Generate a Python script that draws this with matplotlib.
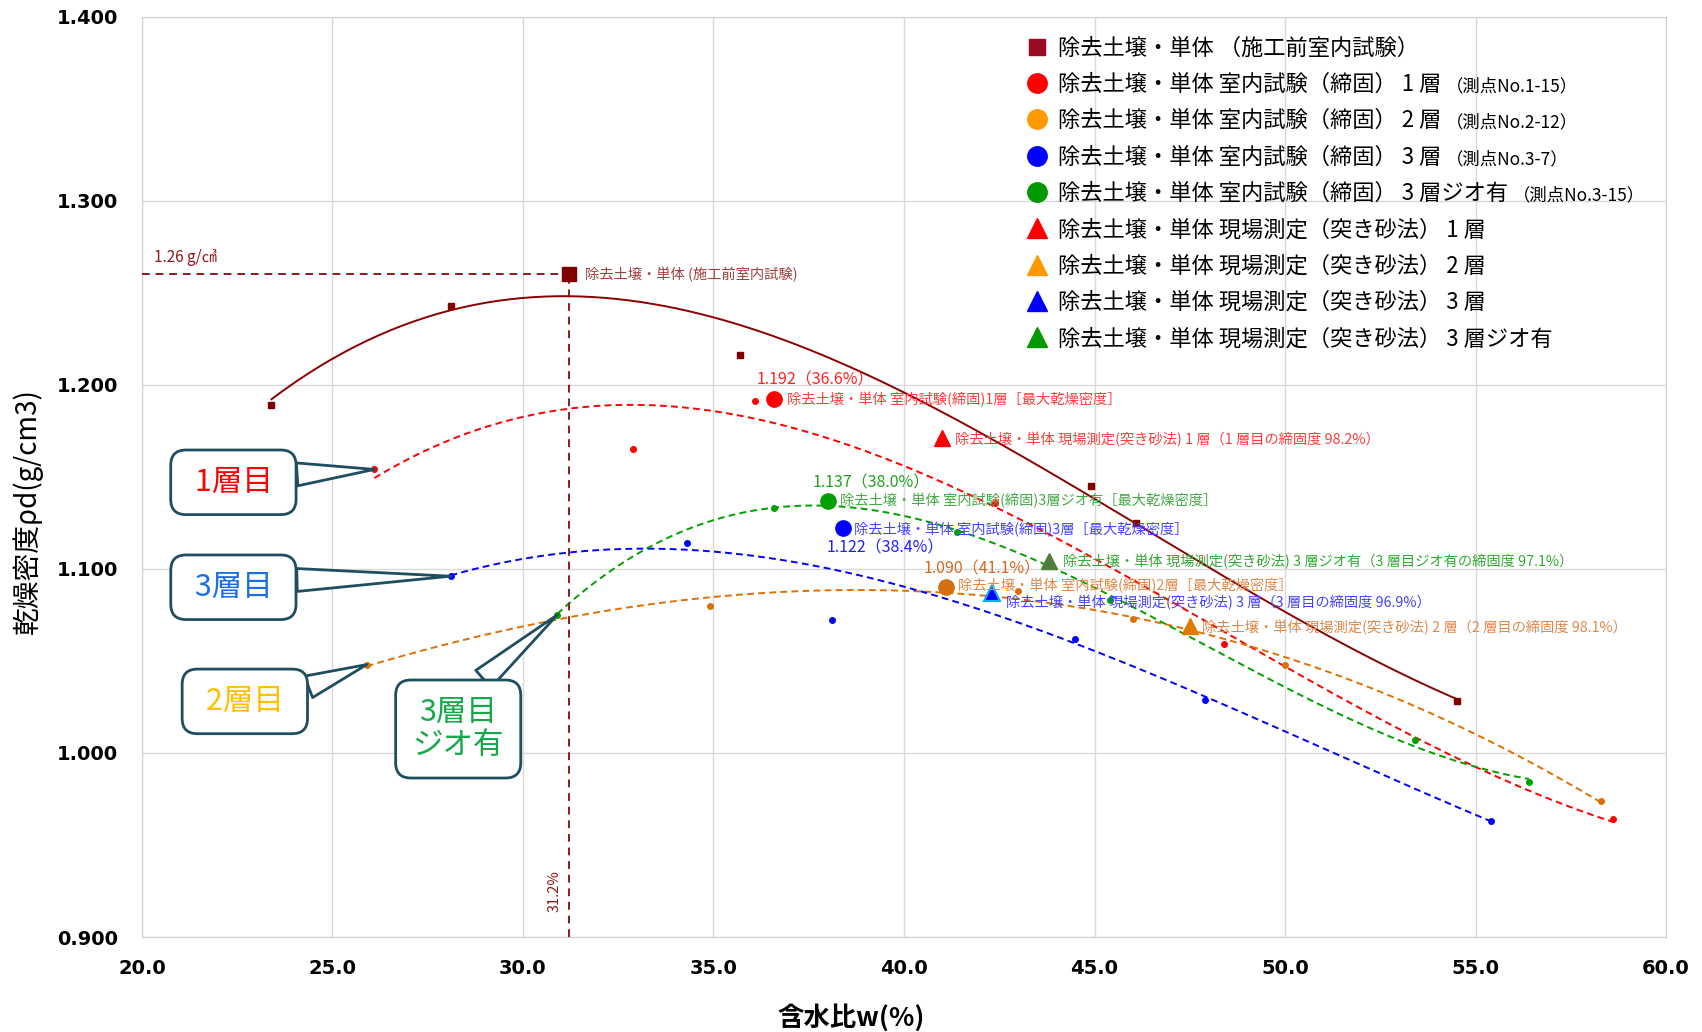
import matplotlib.pyplot as plt
import numpy as np
from matplotlib.lines import Line2D

plt.rcParams['font.family'] = ['Noto Sans CJK JP', 'DejaVu Sans']

# 除去土壌・単体 施工前室内試験
w_pre = [23.4, 28.1, 35.7, 44.9, 46.1, 54.5]
rho_pre = [1.189, 1.243, 1.216, 1.145, 1.125, 1.028]
pre_max = (31.2, 1.260)

# 室内試験(締固) 1層 / 2層 / 3層 / 3層ジオ有
w_l1 = [26.1, 32.9, 36.1, 42.4, 48.4, 58.6]
rho_l1 = [1.154, 1.165, 1.191, 1.136, 1.059, 0.964]
l1_max = (36.6, 1.192)

w_l2 = [25.9, 34.9, 43.0, 46.0, 50.0, 58.3]
rho_l2 = [1.048, 1.080, 1.088, 1.073, 1.048, 0.974]
l2_max = (41.1, 1.090)

w_l3 = [28.1, 34.3, 38.1, 44.5, 47.9, 55.4]
rho_l3 = [1.096, 1.114, 1.072, 1.062, 1.029, 0.963]
l3_max = (38.4, 1.122)

w_geo = [30.9, 36.6, 41.4, 45.4, 53.4, 56.4]
rho_geo = [1.075, 1.133, 1.120, 1.083, 1.007, 0.984]
geo_max = (38.0, 1.137)

# 現場測定(突き砂法)
field_l1 = (41.0, 1.171)
field_l2 = (47.5, 1.069)
field_l3 = (42.3, 1.087)
field_geo = (43.8, 1.104)

fig = plt.figure(figsize=(17.02, 10.32), dpi=100)
ax = fig.add_axes([0.0834, 0.092, 0.8955, 0.892])

dash = (0, (3.5, 2.2))


def trend(w, rho, peak, color, ls):
    # 近似曲線(3次多項式)、最大点も含めて近似
    ww = list(w) + [peak[0]]
    rr = list(rho) + [peak[1]]
    c = np.polyfit(ww, rr, 3)
    x = np.linspace(min(ww), max(ww), 200)
    ax.plot(x, np.polyval(c, x), color=color, ls=ls, lw=1.4, zorder=2)


trend(w_pre, rho_pre, pre_max, '#8B0000', '-')
trend(w_l1, rho_l1, l1_max, '#FF0000', dash)
trend(w_l2, rho_l2, l2_max, '#E07000', dash)
trend(w_l3, rho_l3, l3_max, '#0000FF', dash)
trend(w_geo, rho_geo, geo_max, '#00A000', dash)

ax.plot(w_pre, rho_pre, 's', color='#800000', ms=4.5, zorder=4)
ax.plot(w_l1, rho_l1, 'o', color='#FF0000', ms=4, zorder=4)
ax.plot(w_l2, rho_l2, 'o', color='#D9700A', ms=4, zorder=4)
ax.plot(w_l3, rho_l3, 'o', color='#0000FF', ms=4, zorder=4)
ax.plot(w_geo, rho_geo, 'o', color='#00A000', ms=4, zorder=4)

# 基準線 1.26 / 31.2%
ax.plot([20, pre_max[0]], [pre_max[1], pre_max[1]], color='#8B1A1A', ls=(0, (4, 3)), lw=1.4, zorder=3)
ax.plot([pre_max[0], pre_max[0]], [0.9, pre_max[1]], color='#8B1A1A', ls=(0, (4, 3)), lw=1.4, zorder=3)
ax.annotate('1.26 g/㎤', xy=(20, pre_max[1]), xytext=(9, 6), textcoords='offset points',
            fontsize=11, color='#8B1A1A', va='bottom')
ax.annotate('31.2%', xy=(pre_max[0], 0.925), xytext=(-10, 0), textcoords='offset points',
            fontsize=10.5, color='#8B1A1A', rotation=90, ha='center', va='center')

# 最大乾燥密度
ax.plot(*pre_max, 's', color='#800000', ms=10, zorder=5)
ax.plot(*l1_max, 'o', color='#FF0000', ms=11, zorder=5)
ax.plot(*l2_max, 'o', color='#D2700F', ms=11, zorder=5)
ax.plot(*l3_max, 'o', color='#0000FF', ms=11, zorder=5)
ax.plot(*geo_max, 'o', color='#00A000', ms=11, zorder=5)

ax.plot(*field_l1, '^', color='#FF0000', ms=11, zorder=5)
ax.plot(*field_l2, '^', color='#E07B00', ms=11, zorder=5)
ax.plot(*field_l3, '^', color='#0000FF', mec='#00B0F0', mew=1.5, ms=11, zorder=5)
ax.plot(*field_geo, '^', color='#4E7F3A', ms=11, zorder=5)


def label(xy, text, dx, dy, color, size=10.3):
    ax.annotate(text, xy=xy, xytext=(dx, dy), textcoords='offset points',
                fontsize=size, color=color, va='center', ha='left', zorder=6)


label(pre_max, '除去土壌・単体 (施工前室内試験)', 12, 0, '#A0413E')
label(l1_max, '1.192（36.6%）', -13, 14, '#FF2020', 11.5)
label(l1_max, '除去土壌・単体 室内試験(締固)1層［最大乾燥密度］', 9, 0, '#FF3B3B')
label(field_l1, '除去土壌・単体 現場測定(突き砂法) 1 層（1 層目の締固度 98.2%）', 9, -1, '#FF3B3B')
label(geo_max, '1.137（38.0%）', -11, 13, '#22A022', 11.5)
label(geo_max, '除去土壌・単体 室内試験(締固)3層ジオ有［最大乾燥密度］', 9, 0, '#44AA44')
label(l3_max, '除去土壌・単体 室内試験(締固)3層［最大乾燥密度］', 8, -1, '#4444FF')
label(l3_max, '1.122（38.4%）', -12, -14, '#2020FF', 11.5)
label(field_geo, '除去土壌・単体 現場測定(突き砂法) 3 層ジオ有（3 層目ジオ有の締固度 97.1%）', 10, 0, '#33AA33')
label(l2_max, '1.090（41.1%）', -16, 13, '#D2691E', 11.5)
label(l2_max, '除去土壌・単体 室内試験(締固)2層［最大乾燥密度］', 9, 1, '#E0884A')
label(field_l3, '除去土壌・単体 現場測定(突き砂法) 3 層（3 層目の締固度 96.9%）', 10, -7, '#4444FF')
label(field_l2, '除去土壌・単体 現場測定(突き砂法) 2 層（2 層目の締固度 98.1%）', 9, -1.5, '#E0884A')

# 吹き出し
edge = '#1F4E5F'
callouts = [
    (' 1層目 ', '#FF0000', (22.4, 1.147), (w_l1[0], rho_l1[0]), (1.0, 0.72)),
    (' 3層目 ', '#1A6FE8', (22.4, 1.090), (w_l3[0], rho_l3[0]), (1.0, 0.72)),
    (' 2層目 ', '#FFC000', (22.7, 1.028), (w_l2[0], rho_l2[0]), (1.0, 0.75)),
    ('3層目\nジオ有', '#14A84A', (28.3, 1.013), (w_geo[0], rho_geo[0]), (0.55, 1.0)),
]
for text, color, pos, tip, rel in callouts:
    ax.annotate(text, xy=tip, xytext=pos, textcoords='data', fontsize=22, color=color,
                ha='center', va='center', linespacing=1.1, zorder=7,
                bbox=dict(boxstyle='round,pad=0.55,rounding_size=0.5', fc='white', ec=edge, lw=2),
                arrowprops=dict(arrowstyle='wedge,tail_width=0.75,shrink_factor=0.5',
                                fc='white', ec=edge, lw=2, shrinkA=0, shrinkB=0, relpos=rel))

ax.set_xlim(20, 60)
ax.set_ylim(0.9, 1.4)
ax.set_xticks(np.arange(20, 60.1, 5))
ax.set_yticks(np.arange(0.9, 1.401, 0.1))
ax.xaxis.set_major_formatter(lambda v, _: f"{v:.1f}")
ax.yaxis.set_major_formatter(lambda v, _: f"{v:.3f}")
for t in ax.get_xticklabels():
    t.set_fontweight('bold')
    t.set_fontsize(14)
    t.set_family('DejaVu Sans')
for t in ax.get_yticklabels():
    t.set_fontweight('bold')
    t.set_fontsize(14)
    t.set_family('DejaVu Sans')
ax.tick_params(length=0)
ax.tick_params(axis='x', pad=16)
ax.tick_params(axis='y', pad=17)
ax.grid(color='#D9D9D9', lw=1)
ax.set_axisbelow(True)
for s in ax.spines.values():
    s.set_color('#D0D0D0')

ax.set_xlabel('含水比w(%)', fontsize=19, fontweight='bold')
ax.set_ylabel('乾燥密度ρd(g/cm3)', fontsize=20)
ax.xaxis.set_label_coords(0.465, -0.073)
ax.yaxis.set_label_coords(-0.0647, 0.463)

handles = [
    Line2D([], [], ls='', marker='s', color='#9C0A25', ms=12),
    Line2D([], [], ls='', marker='o', color='#FF0000', ms=14),
    Line2D([], [], ls='', marker='o', color='#FF9900', ms=14),
    Line2D([], [], ls='', marker='o', color='#0000FF', ms=14),
    Line2D([], [], ls='', marker='o', color='#009900', ms=14),
    Line2D([], [], ls='', marker='^', color='#FF0000', ms=14),
    Line2D([], [], ls='', marker='^', color='#FF9900', ms=14),
    Line2D([], [], ls='', marker='^', color='#0000FF', ms=14),
    Line2D([], [], ls='', marker='^', color='#009900', ms=14),
]
labels = [
    '除去土壌・単体 （施工前室内試験）',
    '除去土壌・単体 室内試験（締固） 1 層',
    '除去土壌・単体 室内試験（締固） 2 層',
    '除去土壌・単体 室内試験（締固） 3 層',
    '除去土壌・単体 室内試験（締固） 3 層ジオ有',
    '除去土壌・単体 現場測定（突き砂法） 1 層',
    '除去土壌・単体 現場測定（突き砂法） 2 層',
    '除去土壌・単体 現場測定（突き砂法） 3 層',
    '除去土壌・単体 現場測定（突き砂法） 3 層ジオ有',
]
notes = ['', '（測点No.1-15）', '（測点No.2-12）', '（測点No.3-7）', '（測点No.3-15）', '', '', '', '']
leg = ax.legend(handles, labels, loc='upper left', bbox_to_anchor=(0.567, 1.0), frameon=False,
                fontsize=16, handlelength=1.0, handletextpad=0.45, labelspacing=0.6)

fig.canvas.draw()
for t, note in zip(leg.get_texts(), notes):
    if note:
        bb = t.get_window_extent()
        fig.text((bb.x1 + 4) / fig.bbox.width, (bb.y0 + bb.y1) / 2 / fig.bbox.height - 0.002,
                 note, fontsize=12.5, va='center')

fig.savefig('out.png', dpi=100)
